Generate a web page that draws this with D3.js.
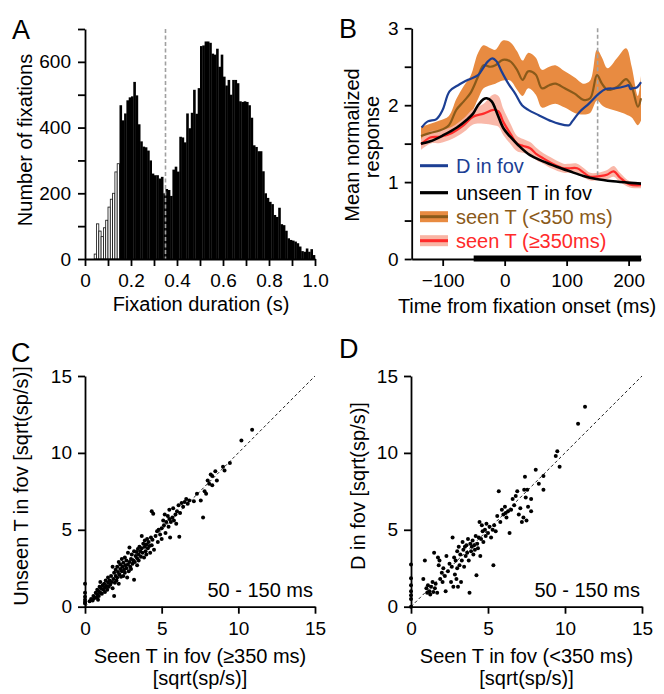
<!DOCTYPE html>
<html><head><meta charset="utf-8">
<script src="https://cdn.jsdelivr.net/npm/d3@7"></script>
<style>
body{margin:0;background:#fff;}
svg text{font-family:"Liberation Sans",Arial,Helvetica,sans-serif;}
</style></head>
<body><svg id="c" width="664" height="694"></svg>
<script>
// ---------- Panel A data ----------
const binStart = 0.04, binWidth = 0.01;
const histCounts = [15,107,85,68,95,118,158,182,200,265,290,
468,422,443,483,492,495,539,498,410,358,
342,340,330,300,260,255,255,245,250,200,
213,210,192,272,281,266,372,370,355,443,
398,445,515,442,520,648,650,662,662,658,
625,622,640,585,622,555,528,545,500,545,
545,535,480,478,480,478,468,430,346,341,
328,328,267,200,186,174,167,134,128,156,
106,103,86,63,58,56,53,48,38,24,
22,32,22,30,12];
const shortCut = 0.15;     // bins below this are drawn open
const durationCut = 0.35;  // dashed line
const histXTicks = [0,0.1,0.2,0.3,0.4,0.5,0.6,0.7,0.8,0.9,1.0];
const histYTicks = [0,100,200,300,400,500,600,700];

// ---------- Panel B data ----------
const blueT = [-134,-124,-110,-100,-89,-75,-59,-43,-35,-27,-20,-13,-5,6,17,28,38,55,76,87,104,109,122,136,152,163,179,196,200,203,206,213,220];
const blueV = [1.71,1.79,1.82,1.94,2.18,2.26,2.33,2.39,2.48,2.57,2.61,2.57,2.44,2.28,2.15,2.0,1.94,1.87,1.79,1.76,1.74,1.79,1.92,2.02,2.15,2.21,2.22,2.25,2.26,2.21,2.22,2.23,2.30];
const blackT = [-135,-120,-99,-77,-61,-51,-43,-34,-29,-21,-12,-2,9,22,41,62,84,105,127,148,175,202,220];
const blackV = [1.50,1.53,1.61,1.71,1.81,1.89,2.00,2.08,2.09,2.05,1.89,1.70,1.59,1.48,1.35,1.27,1.20,1.14,1.08,1.04,1.01,0.99,0.98];
const orangeT = [-135,-120,-105,-90,-78,-66,-55,-43,-34,-23,-15,-3,9,20,29,38,50,60,72,82,97,113,127,138,149,157,166,182,196,205,215,220];
const orangeV = [1.60,1.64,1.67,1.74,1.94,2.05,2.16,2.37,2.52,2.50,2.52,2.59,2.57,2.46,2.33,2.44,2.40,2.22,2.26,2.28,2.22,2.15,2.07,2.09,2.39,2.28,2.20,2.24,2.34,2.24,1.98,2.09];
const orangeLo = [1.48,1.52,1.56,1.62,1.72,1.80,1.88,2.08,2.22,2.26,2.28,2.32,2.32,2.20,2.12,2.22,2.14,1.97,2.00,2.02,1.97,1.90,1.88,1.90,2.06,2.00,1.96,1.92,1.88,1.84,1.74,1.80];
const orangeHi = [1.72,1.76,1.80,1.86,2.08,2.25,2.38,2.68,2.78,2.74,2.72,2.84,2.82,2.70,2.58,2.68,2.62,2.46,2.50,2.52,2.44,2.36,2.28,2.32,2.72,2.62,2.48,2.62,2.74,2.50,2.12,2.38];
const redT = [-135,-120,-104,-85,-66,-51,-34,-18,-10,-2,10,20,30,41,52,62,75,95,105,117,128,138,156,166,176,186,202,220];
const redV = [1.49,1.58,1.59,1.64,1.74,1.85,1.89,1.94,1.92,1.78,1.62,1.50,1.47,1.44,1.36,1.31,1.25,1.18,1.18,1.18,1.12,1.07,1.08,1.10,1.14,1.06,0.97,0.96];
const redHW = [0.07,0.08,0.08,0.08,0.09,0.10,0.13,0.20,0.20,0.17,0.13,0.10,0.09,0.08,0.08,0.07,0.07,0.06,0.06,0.06,0.06,0.05,0.05,0.06,0.07,0.06,0.04,0.04];
const sigStart = -50, sigEnd = 220;
const markerT = 150;
const legendLabels = ["D in fov","unseen T in fov","seen T (<350 ms)","seen T (\u2265350ms)"];
const bXTicks = [-100,0,100,200];
const bYTicks = [0,0.5,1,1.5,2,2.5,3];

// ---------- Panel C data ----------
const cPoints = [[0,0.2],[0,0.45],[0,0.65],[0,0.9],[0,1.5],[0,0.3],
[0.3,0.35],[0.4,0.5],[0.5,0.4],[0.55,0.7],[0.6,0.55],[0.7,0.9],[0.75,0.6],[0.8,0.8],[0.8,1.1],[0.85,0.45],[0.9,1.0],[0.9,0.7],[0.95,1.3],[1.0,0.9],[1.0,1.6],[1.05,1.2],[1.1,0.85],[1.15,1.4],[1.2,1.1],[1.25,1.5],[1.3,1.25],[1.3,0.95],[1.35,1.7],[1.4,1.35],[1.45,1.1],[1.5,1.55],[1.5,1.9],[1.55,1.3],[1.6,1.7],[1.65,1.45],[1.7,2.0],[1.75,1.6],[1.8,1.2],[1.8,2.6],[1.85,1.8],[1.9,2.2],[1.9,0.7],[1.95,1.55],[2.0,2.0],[2.0,2.4],[2.05,1.7],[2.1,2.6],[2.1,1.9],[2.15,2.25],[2.2,2.9],[2.2,1.5],[2.25,2.1],[2.3,2.45],[2.3,2.75],[2.35,1.95],[2.4,2.3],[2.4,3.1],[2.45,2.6],[2.5,2.0],[2.5,2.85],[2.55,2.4],[2.6,3.2],[2.6,2.2],[2.65,2.7],[2.7,2.5],[2.7,3.0],[2.75,1.9],[2.8,2.75],[2.8,3.5],[2.85,2.3],[2.9,2.9],[2.9,3.85],[2.95,2.6],[3.0,3.1],[3.0,2.45],[3.05,3.4],[3.1,2.8],[3.15,3.0],[3.2,3.6],[3.2,1.75],[3.25,2.9],[3.3,3.3],[3.35,3.55],[3.4,3.15],[3.4,2.7],[3.45,3.75],[3.5,3.4],[3.5,3.0],[3.55,3.9],[3.6,3.6],[3.65,3.25],[3.7,3.8],[3.7,4.6],[3.75,3.5],[3.8,4.1],[3.85,3.2],[3.9,3.9],[3.9,4.3],[3.95,3.6],[4.0,4.05],[4.0,3.4],[4.05,4.4],[4.1,3.8],[4.15,4.2],[4.2,3.95],[4.25,3.5],[4.3,4.5],[4.35,6.2],[4.35,4.0],[4.4,4.35],[4.45,6.05],[4.5,3.7],[4.6,4.6],[4.7,4.9],[4.75,4.2],[4.8,5.0],[4.9,4.7],[5.0,5.1],[5.0,4.4],[5.1,5.6],[5.15,5.3],[5.2,6.0],[5.25,4.8],[5.3,5.5],[5.4,5.9],[5.45,5.2],[5.5,5.7],[5.5,6.3],[5.55,4.5],[5.6,5.5],[5.7,5.8],[5.75,6.4],[5.8,5.6],[5.9,6.0],[5.95,5.4],[6.0,6.2],[6.1,6.6],[6.15,4.55],[6.2,6.1],[6.3,6.75],[6.4,6.5],[6.5,6.8],[6.6,7.0],[6.7,6.7],[6.8,6.9],[7.1,6.85],[7.3,7.35],[7.55,6.9],[7.7,5.8],[7.8,7.5],[7.9,7.35],[8.0,8.2],[8.1,8.0],[8.2,8.6],[8.3,7.9],[8.3,8.5],[8.5,8.8],[8.6,8.2],[9.0,9.1],[9.1,8.85],[9.45,9.35],[10.2,10.8],[10.9,11.5]];

// ---------- Panel D data ----------
const dPoints = [[0,0],[0,0.5],[0,0.75],[0,1.0],[0,1.4],[0,1.85],[0,2.75],
[0.8,1.8],[0.9,3.0],[1.0,1.2],[1.05,0.9],[1.1,1.4],[1.2,1.0],[1.25,0.8],[1.3,1.3],[1.4,1.6],[1.45,0.95],[1.5,3.5],[1.55,1.2],[1.6,1.5],[1.7,0.9],[1.75,3.2],[1.8,2.7],[1.85,3.0],[1.9,1.8],[2.0,2.2],[2.05,1.6],[2.1,2.5],[2.2,2.0],[2.25,1.0],[2.3,3.3],[2.4,2.3],[2.5,2.8],[2.6,1.6],[2.65,2.6],[2.7,4.5],[2.75,1.3],[2.8,3.2],[2.85,2.1],[2.9,3.0],[2.95,1.8],[3.0,2.5],[3.0,3.6],[3.05,1.3],[3.1,3.9],[3.15,2.7],[3.2,3.4],[3.25,1.6],[3.3,3.0],[3.35,4.2],[3.4,3.7],[3.45,2.6],[3.5,3.9],[3.55,3.3],[3.6,4.0],[3.65,3.5],[3.7,4.4],[3.75,3.0],[3.8,0.9],[3.85,4.1],[3.9,3.6],[3.95,3.9],[4.0,4.3],[4.05,3.4],[4.1,4.0],[4.15,3.7],[4.2,4.6],[4.25,2.05],[4.3,4.1],[4.35,3.8],[4.4,4.5],[4.45,5.5],[4.5,3.3],[4.55,4.4],[4.6,5.3],[4.65,4.9],[4.7,4.2],[4.8,5.0],[4.85,4.6],[4.9,5.4],[5.0,4.8],[5.1,5.2],[5.2,4.5],[5.3,5.0],[5.35,2.7],[5.4,5.3],[5.5,4.9],[5.6,5.9],[5.7,7.5],[5.8,5.5],[5.9,6.3],[6.0,6.0],[6.1,6.5],[6.15,6.1],[6.2,5.8],[6.3,6.2],[6.4,4.8],[6.5,6.3],[6.6,7.0],[6.7,6.6],[6.8,7.2],[6.9,7.5],[7.0,6.0],[7.1,6.4],[7.2,5.5],[7.3,5.8],[7.35,7.6],[7.4,8.45],[7.45,7.1],[7.5,5.6],[7.55,7.6],[7.6,6.5],[7.8,6.2],[7.8,7.0],[8.1,8.9],[8.3,8.0],[8.6,8.5],[8.6,7.6],[9.4,9.8],[9.5,10.1],[9.65,9.1],[10.85,11.9],[11.3,13.0]];
const scatterTicks = [0,5,10,15];

// ---------- drawing ----------
const svg = d3.select("#c");
const FS = 20, TFS = 19, AW = 1.8;

function styleAxis(g){
  g.selectAll(".domain").attr("stroke","#000").attr("stroke-width",AW);
  g.selectAll(".tick line").attr("stroke","#000").attr("stroke-width",AW);
  g.selectAll(".tick text").attr("font-size",TFS).attr("fill","#000")
   .attr("font-family","Liberation Sans, Arial, sans-serif");
}
function panelLabel(t,x,y){
  svg.append("text").attr("x",x).attr("y",y).attr("font-size",27).text(t);
}

// Panel A
{
  const x = d3.scaleLinear().domain([0,1]).range([85,315]);
  const y = d3.scaleLinear().domain([0,700]).range([259,29]);
  const g = svg.append("g");
  const bins = histCounts.map((c,i)=>({x0:binStart+i*binWidth,c}));
  g.selectAll("rect.b").data(bins).enter().append("rect")
   .attr("x",d=>x(d.x0)).attr("width",d=>x(d.x0+binWidth)-x(d.x0)+(d.x0<shortCut-1e-9?0:0.3))
   .attr("y",d=>y(d.c)).attr("height",d=>y(0)-y(d.c))
   .attr("fill",d=>d.x0<shortCut-1e-9?"#fff":"#000")
   .attr("stroke",d=>d.x0<shortCut-1e-9?"#111":"none").attr("stroke-width",0.8);
  g.append("line").attr("x1",x(durationCut)).attr("x2",x(durationCut)).attr("y1",y(700)).attr("y2",y(0))
   .attr("stroke","#a0a0a0").attr("stroke-width",1.6).attr("stroke-dasharray","4,2.5");
  g.append("g").attr("transform","translate(0,259)")
   .call(d3.axisBottom(x).tickValues(histXTicks).tickSize(7).tickPadding(8).tickSizeOuter(0)
     .tickFormat(d=>(Math.round(d*10)%2===0)?(d===0?"0":d3.format(".1f")(d)):""))
   .call(styleAxis);
  g.append("g").attr("transform","translate(85,0)")
   .call(d3.axisLeft(y).tickValues(histYTicks).tickSize(7).tickPadding(7).tickSizeOuter(0)
     .tickFormat(d=>(d%200===0 && d<=600)?d:""))
   .call(styleAxis);
  svg.append("text").attr("x",201).attr("y",311).attr("text-anchor","middle").attr("font-size",FS).text("Fixation duration (s)");
  svg.append("text").attr("transform","translate(32,140) rotate(-90)").attr("text-anchor","middle").attr("font-size",FS).text("Number of fixations");
  panelLabel("A",12,39);
}

// Panel B
{
  const x = d3.scaleLinear().domain([-150,220]).range([411.7,641]);
  const y = d3.scaleLinear().domain([0,3]).range([259,28.3]);
  const g = svg.append("g");
  const cv = d3.curveCatmullRom.alpha(0.5);
  const area = d3.area().curve(cv).x(d=>x(d.t)).y0(d=>y(d.lo)).y1(d=>y(d.hi));
  const line = d3.line().curve(cv).x(d=>x(d.t)).y(d=>y(d.v));
  const orange = orangeT.map((t,i)=>({t,v:orangeV[i],lo:orangeLo[i],hi:orangeHi[i]}));
  const red = redT.map((t,i)=>({t,v:redV[i],lo:redV[i]-redHW[i],hi:redV[i]+redHW[i]}));
  const blue = blueT.map((t,i)=>({t,v:blueV[i]}));
  const black = blackT.map((t,i)=>({t,v:blackV[i]}));
  g.append("path").datum(orange).attr("d",area).attr("fill","#e88b41");
  g.append("path").datum(red).attr("d",area).attr("fill","#f9b4a4").attr("opacity",0.95);
  g.append("line").attr("x1",x(markerT)).attr("x2",x(markerT)).attr("y1",y(3)).attr("y2",y(1.05))
   .attr("stroke","#a0a0a0").attr("stroke-width",1.6).attr("stroke-dasharray","4,2.5");
  g.append("path").datum(orange).attr("d",line).attr("fill","none").attr("stroke","#8a5a1a").attr("stroke-width",2.2);
  g.append("path").datum(red).attr("d",line).attr("fill","none").attr("stroke","#ff2a2a").attr("stroke-width",2.2);
  g.append("path").datum(blue).attr("d",line).attr("fill","none").attr("stroke","#1c3f94").attr("stroke-width",2.2);
  g.append("path").datum(black).attr("d",line).attr("fill","none").attr("stroke","#000").attr("stroke-width",2.6);
  g.append("g").attr("transform","translate(0,259)")
   .call(d3.axisBottom(x).tickValues(bXTicks).tickSize(7).tickPadding(8).tickSizeOuter(0))
   .call(styleAxis);
  g.append("g").attr("transform","translate(411.7,0)")
   .call(d3.axisLeft(y).tickValues(bYTicks).tickSize(7).tickPadding(6).tickSizeOuter(0)
     .tickFormat(d=>Number.isInteger(d)?d:""))
   .call(styleAxis);
  g.append("rect").attr("x",x(sigStart)).attr("y",255.5).attr("width",x(sigEnd)-x(sigStart)).attr("height",6).attr("fill","#000");
  // legend
  const ly = [165.7,192.7,216.7,240.7];
  const lx0 = 420, lx1 = 448;
  const lg = svg.append("g");
  lg.append("line").attr("x1",lx0).attr("x2",lx1).attr("y1",ly[0]).attr("y2",ly[0]).attr("stroke","#1c3f94").attr("stroke-width",3);
  lg.append("line").attr("x1",lx0).attr("x2",lx1).attr("y1",ly[1]).attr("y2",ly[1]).attr("stroke","#000").attr("stroke-width",3.2);
  lg.append("rect").attr("x",lx0).attr("y",ly[2]-5.5).attr("width",lx1-lx0).attr("height",11).attr("fill","#e88b41");
  lg.append("line").attr("x1",lx0).attr("x2",lx1).attr("y1",ly[2]).attr("y2",ly[2]).attr("stroke","#8a5a1a").attr("stroke-width",3);
  lg.append("rect").attr("x",lx0).attr("y",ly[3]-5.5).attr("width",lx1-lx0).attr("height",11).attr("fill","#f9b4a4");
  lg.append("line").attr("x1",lx0).attr("x2",lx1).attr("y1",ly[3]).attr("y2",ly[3]).attr("stroke","#ff2a2a").attr("stroke-width",3);
  const lcol = ["#1c3f94","#000","#8a5a1a","#ff2a2a"];
  legendLabels.forEach((t,i)=>{
    lg.append("text").attr("x",456).attr("y",ly[i]+7).attr("font-size",FS).attr("fill",lcol[i]).text(t);
  });
  svg.append("text").attr("x",527).attr("y",313).attr("text-anchor","middle").attr("font-size",FS).text("Time from fixation onset (ms)");
  svg.append("text").attr("transform","translate(359,145) rotate(-90)").attr("text-anchor","middle").attr("font-size",FS).text("Mean normalized");
  svg.append("text").attr("transform","translate(379,137) rotate(-90)").attr("text-anchor","middle").attr("font-size",FS).text("response");
  panelLabel("B",339,38);
}

// Scatter panels
function scatter(pts,x0,x1,yTitle,xTitle1,letter,lx,ly,ytx){
  const x = d3.scaleLinear().domain([0,15]).range([x0,x1]);
  const y = d3.scaleLinear().domain([0,15]).range([606.7,376]);
  const g = svg.append("g");
  g.append("line").attr("x1",x(0)).attr("y1",y(0)).attr("x2",x(15)).attr("y2",y(15))
   .attr("stroke","#222").attr("stroke-width",1).attr("stroke-dasharray","3,2.5");
  g.selectAll("circle").data(pts).enter().append("circle")
   .attr("cx",d=>x(d[0])).attr("cy",d=>y(d[1])).attr("r",2).attr("fill","#000");
  g.append("g").attr("transform","translate(0,606.7)")
   .call(d3.axisBottom(x).tickValues(scatterTicks).tickSize(7).tickPadding(8).tickSizeOuter(0)).call(styleAxis);
  g.append("g").attr("transform",`translate(${x0},0)`)
   .call(d3.axisLeft(y).tickValues(scatterTicks).tickSize(7).tickPadding(6).tickSizeOuter(0)).call(styleAxis);
  svg.append("text").attr("x",x1-2).attr("y",597).attr("text-anchor","end").attr("font-size",FS).text("50 - 150 ms");
  const cx = (x0+x1)/2;
  svg.append("text").attr("x",cx).attr("y",663).attr("text-anchor","middle").attr("font-size",FS).text(xTitle1);
  svg.append("text").attr("x",cx).attr("y",685).attr("text-anchor","middle").attr("font-size",FS).text("[sqrt(sp/s)]");
  svg.append("text").attr("transform",`translate(${ytx},486) rotate(-90)`).attr("text-anchor","middle").attr("font-size",FS).text(yTitle);
  panelLabel(letter,lx,ly);
}
scatter(cPoints,85,315,"Unseen T in fov [sqrt(sp/s)]","Seen T in fov (\u2265350 ms)","C",11,362,28);
scatter(dPoints,411,642,"D in fov [sqrt(sp/s)]","Seen T in fov (<350 ms)","D",339,358,365);
</script></body></html>
